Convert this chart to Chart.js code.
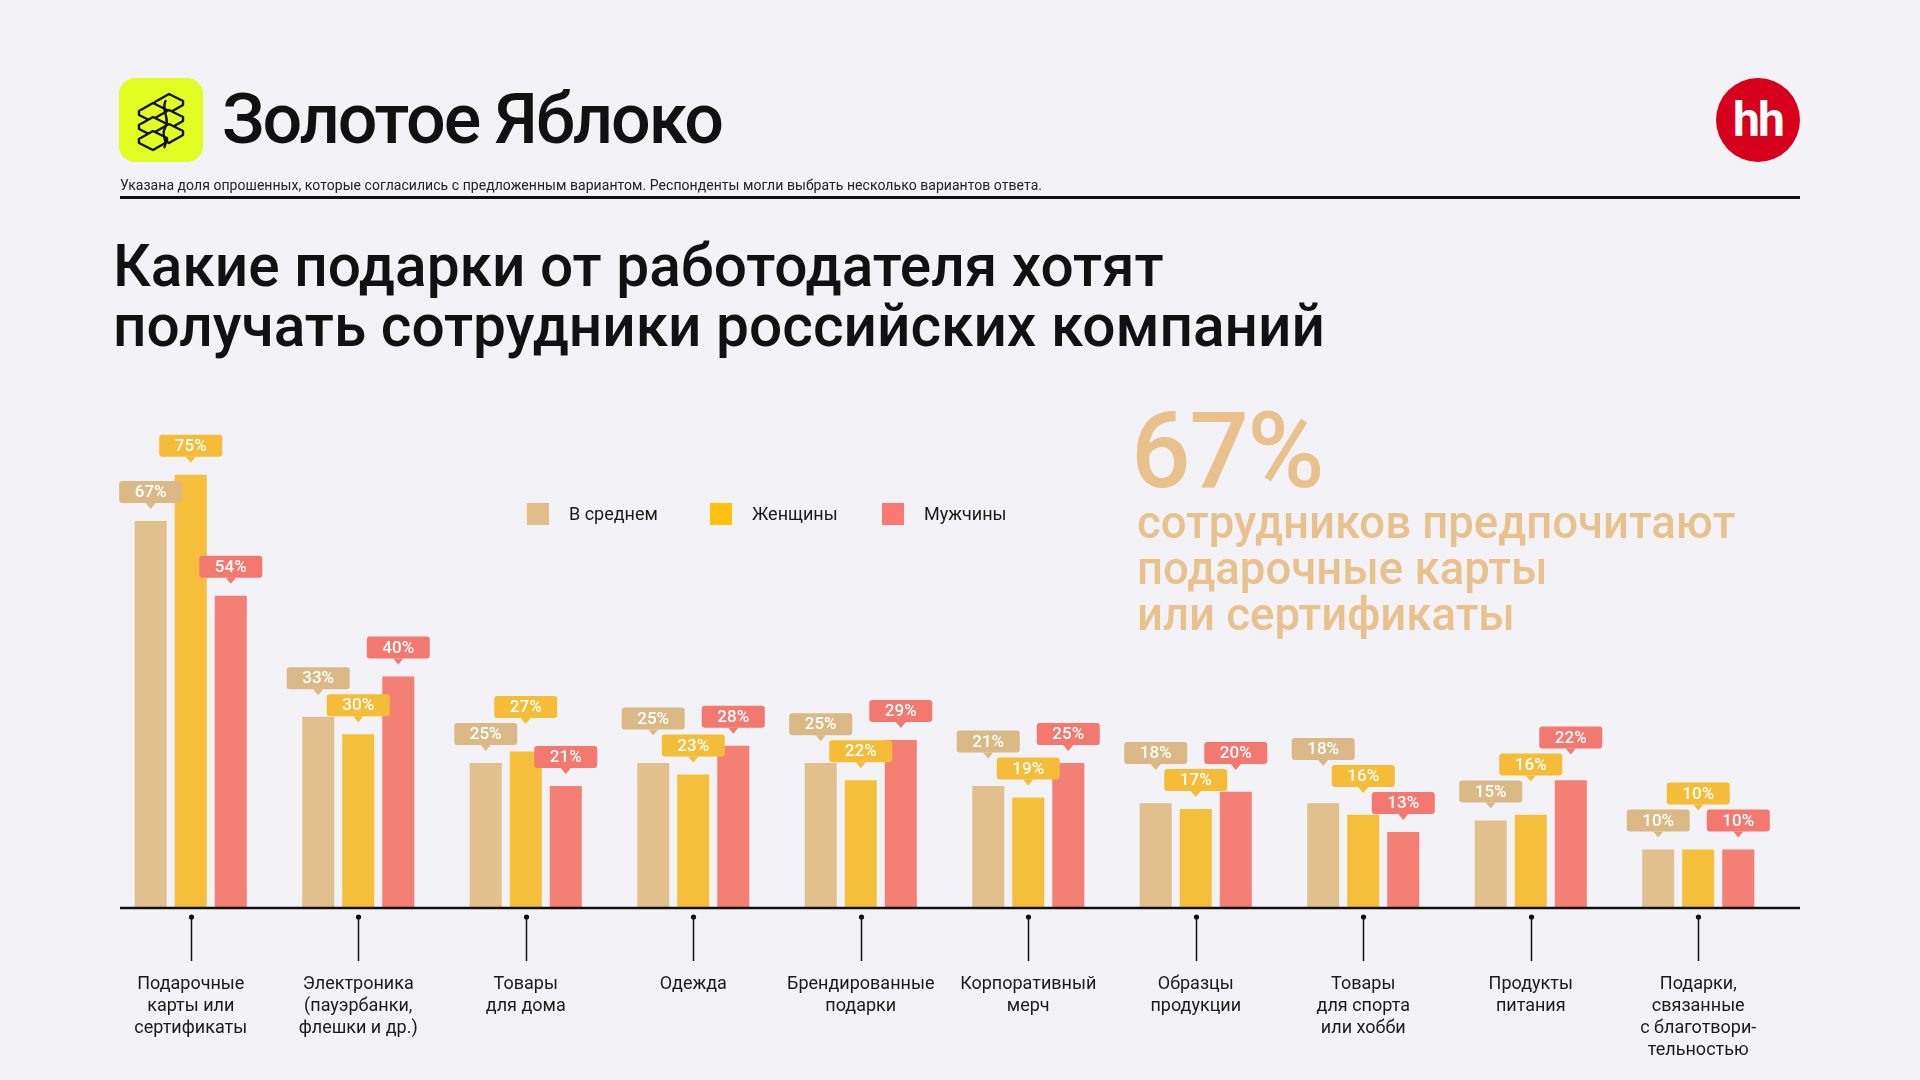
<!DOCTYPE html>
<html lang="ru">
<head>
<meta charset="utf-8">
<title>Какие подарки от работодателя хотят получать сотрудники российских компаний</title>
<script src="https://cdn.jsdelivr.net/npm/chart.js@4.4.1/dist/chart.umd.min.js"></script>
<style>
  html, body { margin: 0; padding: 0; }
  body {
    width: 1920px; height: 1080px; position: relative; overflow: hidden;
    background: #f3f3f7; color: #111;
    font-family: Roboto, 'Noto Sans', sans-serif;
  }
  #chart { position: absolute; left: 0; top: 0; }
  .abs { position: absolute; white-space: nowrap; }
  #logo { left: 119px; top: 78px; width: 84px; height: 84px; border-radius: 16px; background: #e1fd22; }
  #brand { left: 222px; top: 84px; font-size: 70px; line-height: 70px; font-weight: 500; letter-spacing: -2px; }
  #note { left: 120px; top: 177px; font-size: 14px; line-height: 16px; color: #222; letter-spacing: 0.05px; }
  #rule { left: 120px; top: 196px; width: 1680px; height: 3px; background: #111; }
  #hh { left: 1716px; top: 78px; width: 84px; height: 84px; border-radius: 50%; background: #d6001c;
        color: #fff; font-weight: 700; font-size: 48px; line-height: 84px; text-align: center; letter-spacing: -2px; }
  #title { left: 113px; top: 236px; font-size: 58.6px; line-height: 60px; font-weight: 500; letter-spacing: 0; }
  #big { left: 1131px; top: 399px; font-size: 105px; line-height: 105px; font-weight: 500; color: #e8c18d; letter-spacing: -1.5px; }
  #bigText { left: 1137px; top: 500px; font-size: 45.5px; line-height: 46px; font-weight: 500; color: #e8c18d; }
  .key { position: absolute; top: 503px; width: 22px; height: 22px; }
  .keyText { position: absolute; top: 503px; font-size: 18px; line-height: 22px; color: #1a1a1a; }
</style>
</head>
<body>
<canvas id="chart" width="1920" height="1080"></canvas>

<div id="logo" class="abs">
  <svg id="logoIcon" width="84" height="84" viewBox="0 0 84 84" fill="#e1fd22" stroke="#111" stroke-width="2.4" stroke-linejoin="round"></svg>
</div>
<div id="brand" class="abs">Золотое Яблоко</div>
<div id="note" class="abs">Указана доля опрошенных, которые согласились с предложенным вариантом. Респонденты могли выбрать несколько вариантов ответа.</div>
<div id="rule" class="abs"></div>
<div id="hh" class="abs">hh</div>
<div id="title" class="abs">Какие подарки от работодателя хотят<br>получать сотрудники российских компаний</div>
<div id="big" class="abs">67%</div>
<div id="bigText" class="abs">сотрудников предпочитают<br>подарочные карты<br>или сертификаты</div>
<div id="legend"></div>

<script>
// категории и значения (%)
const categories = [
    ['Подарочные', 'карты или', 'сертификаты'],
    ['Электроника', '(пауэрбанки,', 'флешки и др.)'],
    ['Товары', 'для дома'],
    ['Одежда'],
    ['Брендированные', 'подарки'],
    ['Корпоративный', 'мерч'],
    ['Образцы', 'продукции'],
    ['Товары', 'для спорта', 'или хобби'],
    ['Продукты', 'питания'],
    ['Подарки,', 'связанные', 'с благотвори-', 'тельностью']
];
const averageValues = [67, 33, 25, 25, 25, 21, 18, 18, 15, 10];
const womenValues = [75, 30, 27, 23, 22, 19, 17, 16, 16, 10];
const menValues = [54, 40, 21, 28, 29, 25, 20, 13, 22, 10];
const seriesNames = ['В среднем', 'Женщины', 'Мужчины'];

const seriesColors = ['#e2c08e', '#f6bf3b', '#f47f75'];
const tagColors = ['#dbb987', '#f5bc38', '#f27870'];
const legendColors = ['#e2bd8a', '#ffc10f', '#f87a72'];

// иконка-логотип: стопка плиток с завитком посередине
(function drawLogo() {
    const svg = document.getElementById('logoIcon');
    const slab = (x, y) => `<path d="M${x} ${y} l14 -8 l14 7 l-14 8 Z"/>` +
        `<path d="M${x} ${y} v4 l14 7 l14 -8 v-4"/>`;
    let out = '';
    [[36, 24], [20, 33], [36, 40], [20, 47], [36, 54], [20, 61]].forEach(p => { out += slab(p[0], p[1]); });
    out += '<path fill="none" d="M47 22 C41 32 52 40 46 50 C41 58 50 62 45 70"/>';
    svg.innerHTML = out;
})();

// легенда поверх графика
const legendX = [527, 710, 882];
const legendEl = document.getElementById('legend');
seriesNames.forEach((name, i) => {
    legendEl.innerHTML += `<div class="key" style="left:${legendX[i]}px;background:${legendColors[i]}"></div>` +
        `<div class="keyText" style="left:${legendX[i] + 42}px">${name}</div>`;
});

// базовая линия и «засечки» под категориями
const axisDecor = {
    id: 'axisDecor',
    afterDraw(chart) {
        const ctx = chart.ctx;
        const base = chart.chartArea.bottom;
        ctx.save();
        ctx.strokeStyle = '#111';
        ctx.fillStyle = '#111';
        ctx.lineWidth = 2.5;
        ctx.beginPath();
        ctx.moveTo(120, base + 1);
        ctx.lineTo(1800, base + 1);
        ctx.stroke();

        ctx.lineWidth = 1.5;
        chart.scales.x.ticks.forEach((t, i) => {
            const x = Math.round(chart.scales.x.getPixelForValue(i)) + 0.5;
            ctx.beginPath();
            ctx.moveTo(x, base + 10);
            ctx.lineTo(x, base + 54);
            ctx.stroke();
            ctx.beginPath();
            ctx.arc(x, base + 10, 2.6, 0, Math.PI * 2);
            ctx.fill();
        });
        ctx.restore();
    }
};

// подписи-«флажки» над столбцами, сдвигаются вверх, если налезают друг на друга
const valueTags = {
    id: 'valueTags',
    afterDatasetsDraw(chart) {
        const ctx = chart.ctx;
        const boxW = 63, boxH = 22, tip = 6, lift = 12, minSep = 27;
        ctx.save();
        ctx.font = '500 17px Roboto';
        ctx.textAlign = 'center';
        ctx.textBaseline = 'middle';

        categories.forEach((c, i) => {
            const tags = chart.data.datasets.map((ds, d) => {
                const bar = chart.getDatasetMeta(d).data[i];
                return { x: bar.x, value: ds.data[i], cy: bar.y - lift - tip - boxH / 2, color: tagColors[d] };
            });

            const placed = [];
            tags.slice().sort((a, b) => a.value - b.value).forEach(t => {
                let moved = true;
                while (moved) {
                    moved = false;
                    placed.forEach(p => {
                        if (Math.abs(p.x - t.x) < boxW && Math.abs(p.cy - t.cy) < minSep) {
                            t.cy = p.cy - minSep;
                            moved = true;
                        }
                    });
                }
                placed.push(t);
            });

            placed.forEach(t => {
                const left = t.x - boxW / 2, top = t.cy - boxH / 2;
                ctx.fillStyle = t.color;
                ctx.beginPath();
                ctx.roundRect(left, top, boxW, boxH, 3);
                ctx.fill();
                ctx.beginPath();
                ctx.moveTo(t.x - 5, top + boxH);
                ctx.lineTo(t.x + 5, top + boxH);
                ctx.lineTo(t.x, top + boxH + tip);
                ctx.closePath();
                ctx.fill();
                ctx.fillStyle = '#fff';
                ctx.fillText(t.value + '%', t.x, t.cy + 1);
            });
        });
        ctx.restore();
    }
};

new Chart(document.getElementById('chart'), {
    type: 'bar',
    data: {
        labels: categories,
        datasets: [
            { label: seriesNames[0], data: averageValues, backgroundColor: seriesColors[0] },
            { label: seriesNames[1], data: womenValues, backgroundColor: seriesColors[1] },
            { label: seriesNames[2], data: menValues, backgroundColor: seriesColors[2] }
        ]
    },
    options: {
        responsive: false,
        animation: false,
        layout: { padding: { left: 107, right: 138, top: 446, bottom: 0 } },
        datasets: { bar: { categoryPercentage: 0.717, barPercentage: 0.8 } },
        plugins: {
            legend: { display: false },
            tooltip: { enabled: false }
        },
        scales: {
            x: {
                grid: { display: false },
                border: { display: false },
                ticks: {
                    autoSkip: false,
                    maxRotation: 0,
                    padding: 59,
                    color: '#1a1a1a',
                    font: { family: 'Roboto', size: 18, lineHeight: 1.22 }
                },
                afterFit: (scale) => { scale.height = 173; }
            },
            y: { display: false, min: 0, max: 80 }
        }
    },
    plugins: [axisDecor, valueTags]
});
</script>
</body>
</html>
